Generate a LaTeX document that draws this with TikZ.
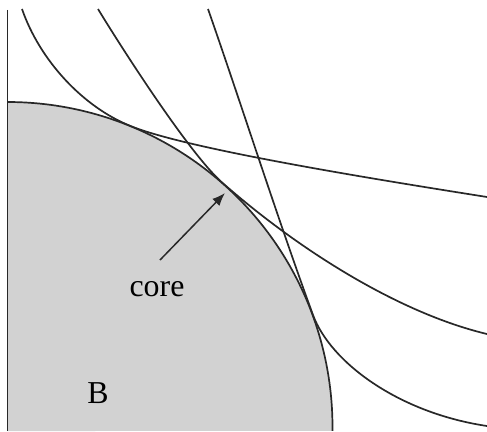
\documentclass[tikz,border=0pt]{standalone}
\usepackage{fontspec}
\setmainfont{Liberation Serif}
\usetikzlibrary{arrows.meta}
\definecolor{coregray}{RGB}{210,210,210}
\definecolor{inkline}{RGB}{40,40,40}
\begin{document}
\begin{tikzpicture}[x=1bp,y=1bp,
  curveline/.style={draw=inkline,line width=1.7bp},
  label/.style={font=\fontsize{32}{38}\selectfont,inner sep=0pt},
  pointer/.style={draw=inkline,line width=1.5bp,-{Latex[length=13bp,width=10bp]}}]
\useasboundingbox (0,0) rectangle (487,431);
% gray region B
\fill[coregray] (7.5,0) -- (7.5,329) arc[start angle=90,end angle=-0.7,radius=325] -- cycle;
\draw[curveline] (7.5,329) arc[start angle=90,end angle=-0.7,radius=325];
% left boundary
\draw[curveline] (7.5,421) -- (7.5,0);
% three tangent curves
\draw[curveline] (22,422) .. controls (40,370) and (83.6,323.8) .. (130.3,305.1)
  .. controls (185.6,282.4) and (367,253) .. (487,234);
\draw[curveline] (98,422) .. controls (118.8,387.8) and (188.6,277.9) .. (222.4,248.2)
  .. controls (297.5,182.2) and (398,118.2) .. (487,97);
\draw[curveline] (208,422) .. controls (241,327.6) and (278.5,209.9) .. (313,116)
  .. controls (330.3,69) and (398,18.3) .. (487,5);
% labels
\node[label] (corelbl) at (157,142) {core};
\node[label] (blbl) at (98,38) {B};
\coordinate (tail) at (160,171);
\coordinate (tip) at (225,238);
\draw[pointer] (tail) -- (tip);
\end{tikzpicture}
\end{document}
